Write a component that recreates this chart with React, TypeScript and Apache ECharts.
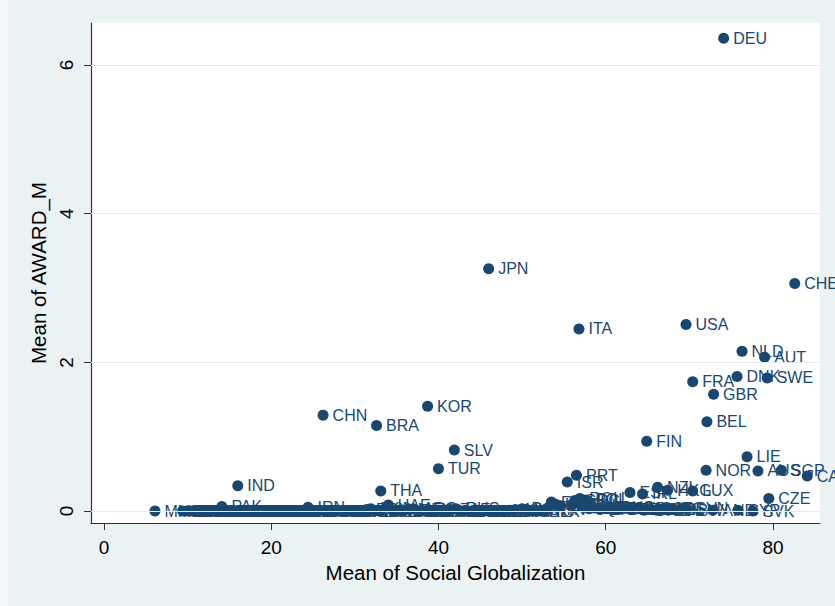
import React, { useEffect, useRef } from "react";
import * as echarts from "echarts";

const countries = [
  "DEU", "JPN", "CHE", "USA", "ITA", "NLD", "AUT", "DNK", "SWE", "FRA", "GBR", "KOR", "CHN", "BEL", "BRA",
  "FIN", "SLV", "LIE", "TUR", "NOR", "SGP", "AUS", "CAN", "PRT", "ISR", "IND", "NZL", "THA", "LUX", "HKG",
  "IRL", "ESP", "CZE", "ROU", "POL", "SVN", "AND", "CYP", "SVK",
  "MMR", "BDI", "ETH", "NER", "TCD", "RWA", "BFA", "MWI", "UGA", "TZA", "MLI", "PAK", "NPL", "MDG", "BEN",
  "CMR", "KEN", "GIN", "CIV", "ZMB", "SEN", "BGD", "MOZ", "GHA", "LAO", "NGA", "SDN", "YEM", "KHM", "HTI",
  "AGO", "IRN", "VNM", "BOL", "GTM", "HND", "PRY", "SYR", "IDN", "NIC", "PHL", "PER", "EGY", "LKA", "ECU",
  "COL", "UAE", "MAR", "PAN", "VEN", "MEX", "ARG", "URY", "TUN", "DOM", "JAM", "KAZ", "ALB", "ZAF", "RUS",
  "UKR", "GEO", "ARM", "MKD", "BIH", "SRB", "JOR", "LBN", "MNG", "CHL", "MYS", "BGR", "CRI", "TTO", "BLR",
  "HRV", "EST", "LTU", "LVA", "HUN", "GRC", "MLT", "KWT", "QAT", "BHR", "BRN", "BHS", "BRB", "SYC", "MUS",
  "MCO", "GRD", "SMR", "KNA", "ATG", "ISL", "ABW"
];

const socialGlob = [
  74.1, 46.0, 82.6, 69.6, 56.8, 76.3, 79.0, 75.7, 79.3, 70.4, 72.9, 38.7, 26.2, 72.1, 32.6,
  64.9, 41.9, 76.9, 40.0, 72.0, 81.0, 78.2, 84.1, 56.5, 55.4, 16.0, 66.2, 33.1, 70.4, 67.4,
  64.4, 62.9, 79.5, 56.9, 57.6, 69.6, 72.8, 75.8, 77.6,
  6.1, 9.4, 9.9, 10.4, 10.9, 11.4, 11.9, 12.4, 12.9, 13.4, 13.8, 14.1, 14.7, 15.2, 15.7,
  16.3, 16.8, 17.3, 17.8, 18.3, 18.8, 19.3, 19.8, 20.3, 20.8, 21.3, 21.8, 22.3, 22.8, 23.3,
  23.8, 24.4, 25.0, 25.6, 26.6, 27.2, 27.8, 28.4, 29.0, 29.6, 30.2, 30.8, 31.4, 31.9, 32.4,
  33.0, 34.0, 34.6, 35.2, 35.8, 36.4, 37.0, 37.6, 38.2, 38.8, 39.5, 40.2, 40.8, 41.4, 42.1,
  42.7, 43.3, 43.9, 44.6, 45.2, 45.9, 46.5, 47.2, 47.8, 48.5, 49.2, 50.0, 50.7, 51.4, 52.1,
  52.8, 53.5, 54.0, 54.6, 55.9, 56.3, 57.2, 58.0, 58.6, 59.3, 60.0, 60.7, 61.5, 62.2, 63.0,
  63.8, 64.6, 65.4, 66.1, 66.9, 67.8, 68.6
];

const awardM = [
  6.36, 3.26, 3.06, 2.51, 2.45, 2.15, 2.07, 1.81, 1.79, 1.74, 1.57, 1.41, 1.29, 1.20, 1.15,
  0.94, 0.82, 0.73, 0.57, 0.55, 0.55, 0.54, 0.47, 0.48, 0.39, 0.34, 0.32, 0.27, 0.27, 0.28,
  0.23, 0.25, 0.17, 0.17, 0.15, 0.04, 0.01, 0.01, 0.0,
  0.0, 0.0, 0.0, 0.0, 0.0, 0.0, 0.0, 0.0, 0.0, 0.0, 0.0, 0.06, 0.0, 0.0, 0.0,
  0.0, 0.0, 0.0, 0.0, 0.0, 0.0, 0.0, 0.0, 0.0, 0.0, 0.0, 0.0, 0.0, 0.0, 0.0,
  0.0, 0.05, 0.0, 0.0, 0.0, 0.0, 0.0, 0.0, 0.0, 0.0, 0.0, 0.0, 0.02, 0.03, 0.0,
  0.0, 0.08, 0.0, 0.0, 0.0, 0.02, 0.03, 0.0, 0.0, 0.0, 0.0, 0.0, 0.0, 0.02, 0.03,
  0.0, 0.0, 0.0, 0.0, 0.0, 0.0, 0.0, 0.0, 0.0, 0.01, 0.02, 0.03, 0.0, 0.0, 0.0,
  0.02, 0.12, 0.09, 0.07, 0.08, 0.14, 0.05, 0.03, 0.04, 0.02, 0.03, 0.05, 0.02, 0.04, 0.02,
  0.03, 0.01, 0.02, 0.01, 0.03, 0.02, 0.01
];

const xTicks = [0, 20, 40, 60, 80];
const yTicks = [0, 2, 4, 6];

const FONT = "'Liberation Sans', Arial, sans-serif";
const NAVY = "#1a476f";

export default function App() {
  const ref = useRef<HTMLDivElement>(null);

  useEffect(() => {
    if (!ref.current) return;
    const chart = echarts.init(ref.current, undefined, { renderer: "svg" });
    const points = countries.map((c, i) => ({ name: c, value: [socialGlob[i], awardM[i]] }));
    chart.setOption({
      animation: false,
      backgroundColor: "#eaf2f3",
      textStyle: { fontFamily: FONT },
      graphic: [
        { type: "rect", left: 0, top: 0, shape: { width: 8, height: 606 }, style: { fill: "#f4f8f9" }, silent: true, z: -10 },
      ],
      grid: {
        left: 91, top: 23, right: 15, bottom: 83,
        show: true, backgroundColor: "#ffffff", borderWidth: 0,
      },
      xAxis: {
        type: "value", min: -1.55, max: 85.62,
        name: "Mean of Social Globalization", nameLocation: "middle", nameGap: 34,
        nameTextStyle: { fontSize: 20.5, color: "#000", fontFamily: FONT },
        axisLine: { show: true, onZero: false, lineStyle: { color: "#333", width: 1.2 } },
        axisTick: { show: true, length: 7, customValues: xTicks, lineStyle: { color: "#333" } },
        axisLabel: { customValues: xTicks, fontSize: 19, color: "#000", margin: 15, fontFamily: FONT },
        splitLine: { show: false },
      },
      yAxis: {
        type: "value", min: -0.161, max: 6.565,
        name: "Mean of AWARD_M", nameLocation: "middle", nameGap: 37, nameRotate: 90,
        nameTextStyle: { fontSize: 20.5, color: "#000", fontFamily: FONT },
        axisLine: { show: true, onZero: false, lineStyle: { color: "#333", width: 1.2 } },
        axisTick: { show: true, length: 7, customValues: yTicks, lineStyle: { color: "#333" } },
        axisLabel: { customValues: yTicks, rotate: 90, fontSize: 19, color: "#000", margin: 15, fontFamily: FONT },
        splitLine: { show: false },
      },
      series: [
        {
          type: "line",
          data: [],
          z: 1,
          silent: true,
          markLine: {
            silent: true,
            symbol: ["none", "none"],
            label: { show: false },
            lineStyle: { color: "#e3edf0", width: 1.2, type: "solid" },
            data: yTicks.map((v) => ({ yAxis: v })),
          },
        },
        {
          type: "scatter",
          z: 3,
          symbol: "circle",
          symbolSize: 11,
          itemStyle: { color: NAVY, opacity: 1 },
          label: {
            show: true,
            position: "right",
            distance: 4,
            formatter: "{b}",
            color: NAVY,
            fontSize: 16,
            fontFamily: FONT,
          },
          labelLayout: { hideOverlap: false },
          data: points,
        },
      ],
    });
    return () => chart.dispose();
  }, []);

  return (
    <div
      ref={ref}
      style={{ position: "fixed", left: 0, top: 0, width: 835, height: 606 }}
    />
  );
}
